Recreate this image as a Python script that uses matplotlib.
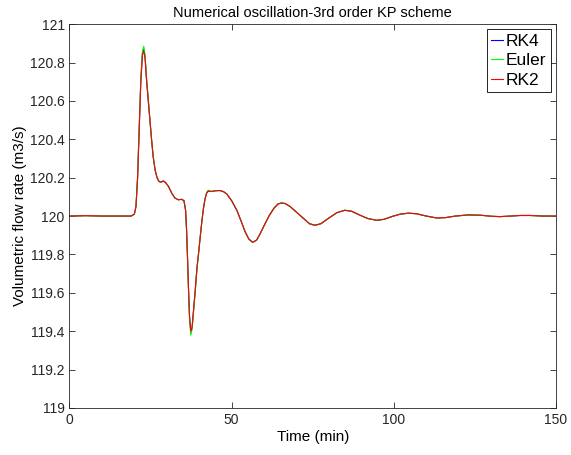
import matplotlib
matplotlib.use("Agg")
import matplotlib.pyplot as plt

plt.rcParams['font.family'] = ['Liberation Sans', 'DejaVu Sans']

time_min = [0, 5, 10, 15, 19, 20, 20.5, 21, 21.5, 22, 22.5, 22.9, 23.3, 23.8, 24.3, 24.8,
            25.3, 25.8, 26.4, 27, 27.6, 28.3, 28.9, 29.6, 30.5, 31.5, 32.5, 33.5, 34.6, 35.3,
            35.8, 36.1, 36.4, 36.7, 37.0, 37.4, 37.8, 38.2, 38.8, 39.3, 39.7, 40.3, 40.8, 41.3,
            41.8, 42.3, 42.8, 43.8, 45, 46.4, 47.5, 48.5, 50, 51.6, 53, 54.1, 55.3, 56.5, 57.7,
            58.7, 60, 61.5, 63, 64.3, 65.4, 66.5, 68, 70, 72, 74, 75.7, 77.5, 80, 82.5, 84.9,
            87, 89.5, 92, 94.7, 97, 99.5, 102, 104.5, 107, 110, 113.2, 116, 119, 123, 127, 130,
            132.7, 136, 139, 142, 146, 150]

rk2 = [120.0, 120.002, 120.0, 120.0, 120.0, 120.01, 120.05, 120.2, 120.45, 120.7, 120.84, 120.86,
       120.82, 120.7, 120.6, 120.5, 120.4, 120.31, 120.24, 120.2, 120.18, 120.177, 120.183, 120.175,
       120.155, 120.12, 120.094, 120.085, 120.087, 120.08, 120.03, 119.93, 119.78, 119.62, 119.48,
       119.40, 119.42, 119.5, 119.62, 119.73, 119.79, 119.89, 119.97, 120.04, 120.09, 120.12, 120.13,
       120.128, 120.132, 120.133, 120.127, 120.115, 120.08, 120.03, 119.97, 119.92, 119.88, 119.863,
       119.875, 119.905, 119.95, 120.0, 120.04, 120.063, 120.068, 120.065, 120.05, 120.02, 119.99,
       119.96, 119.952, 119.96, 119.99, 120.018, 120.03, 120.025, 120.005, 119.987, 119.978, 119.983,
       119.998, 120.01, 120.015, 120.012, 120.0, 119.99, 119.992, 120.0, 120.006, 120.004, 119.999,
       119.997, 120.0, 120.003, 120.003, 120.0, 120.0]

euler = [120.0, 120.002, 120.0, 120.0, 120.0, 120.01, 120.05, 120.21, 120.47, 120.72, 120.86, 120.885,
         120.84, 120.71, 120.61, 120.5, 120.4, 120.31, 120.24, 120.2, 120.18, 120.177, 120.183, 120.175,
         120.155, 120.12, 120.094, 120.085, 120.087, 120.08, 120.03, 119.92, 119.77, 119.61, 119.47,
         119.38, 119.41, 119.49, 119.61, 119.72, 119.79, 119.89, 119.97, 120.04, 120.09, 120.125, 120.135,
         120.128, 120.132, 120.133, 120.127, 120.115, 120.08, 120.03, 119.97, 119.92, 119.88, 119.862,
         119.875, 119.905, 119.95, 120.0, 120.04, 120.064, 120.069, 120.065, 120.05, 120.02, 119.99,
         119.96, 119.951, 119.96, 119.99, 120.018, 120.031, 120.025, 120.005, 119.987, 119.978, 119.983,
         119.998, 120.01, 120.015, 120.012, 120.0, 119.99, 119.992, 120.0, 120.006, 120.004, 119.999,
         119.997, 120.0, 120.003, 120.003, 120.0, 120.0]

rk4 = [120.0, 120.002, 120.0, 120.0, 120.0, 120.01, 120.05, 120.2, 120.46, 120.71, 120.85, 120.87,
       120.83, 120.7, 120.6, 120.5, 120.4, 120.31, 120.24, 120.2, 120.18, 120.177, 120.183, 120.175,
       120.155, 120.12, 120.094, 120.085, 120.087, 120.08, 120.03, 119.93, 119.78, 119.62, 119.48,
       119.39, 119.42, 119.5, 119.62, 119.73, 119.79, 119.89, 119.97, 120.04, 120.09, 120.12, 120.13,
       120.128, 120.132, 120.133, 120.127, 120.115, 120.08, 120.03, 119.97, 119.92, 119.88, 119.863,
       119.875, 119.905, 119.95, 120.0, 120.04, 120.063, 120.068, 120.065, 120.05, 120.02, 119.99,
       119.96, 119.952, 119.96, 119.99, 120.018, 120.03, 120.025, 120.005, 119.987, 119.978, 119.983,
       119.998, 120.01, 120.015, 120.012, 120.0, 119.99, 119.992, 120.0, 120.006, 120.004, 119.999,
       119.997, 120.0, 120.003, 120.003, 120.0, 120.0]

x_ticks = [0, 50, 100, 150]
y_ticks = [119, 119.2, 119.4, 119.6, 119.8, 120, 120.2, 120.4, 120.6, 120.8, 121]
y_tick_labels = ['119', '119.2', '119.4', '119.6', '119.8', '120', '120.2', '120.4', '120.6', '120.8', '121']

fig = plt.figure(figsize=(5.71, 4.55), dpi=100)
ax = fig.add_axes([0.1217, 0.1033, 0.852, 0.8437])

ax.plot(time_min, rk4, color=(0, 0, 1), lw=0.8, label='RK4')
ax.plot(time_min, euler, color=(0, 1, 0), lw=0.8, label='Euler')
ax.plot(time_min, rk2, color=(1, 0, 0), lw=0.8, label='RK2')

ax.set_xlim(0, 150)
ax.set_ylim(119, 121)
ax.set_xticks(x_ticks)
ax.set_yticks(y_ticks)
ax.set_yticklabels(y_tick_labels)
ax.tick_params(direction='in', top=True, right=True, length=4, labelsize=10,
               colors=(0.15, 0.15, 0.15), width=0.6)
for s in ax.spines.values():
    s.set_color((0.15, 0.15, 0.15))
    s.set_linewidth(0.6)

ax.set_xlabel('Time (min)', fontsize=11, labelpad=2)
ax.set_ylabel('Volumetric flow rate (m3/s)', fontsize=11, labelpad=2)
ax.set_title('Numerical oscillation-3rd order KP scheme', fontsize=10.5, pad=5)

leg = ax.legend(loc='upper right', fontsize=12.5, handlelength=0.7, handletextpad=0.15,
                borderpad=0.25, labelspacing=0.25, fancybox=False, framealpha=1,
                borderaxespad=0.3)
leg.get_frame().set_edgecolor('black')
leg.get_frame().set_linewidth(0.6)

fig.savefig('out.png', dpi=100)
